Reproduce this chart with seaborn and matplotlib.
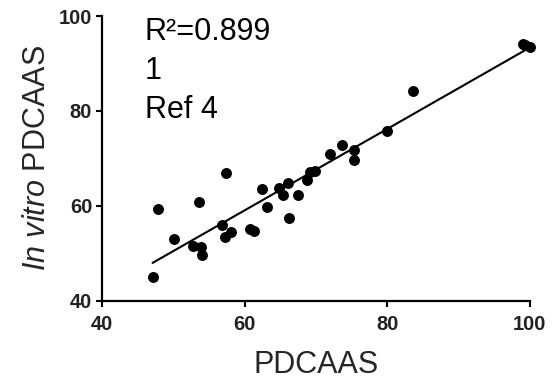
import numpy as np
import pandas as pd
import matplotlib
matplotlib.use('Agg')
import matplotlib.pyplot as plt
import seaborn as sns

# PDCAAS (x) vs in vitro PDCAAS (y)
pdcaas = [47.1, 47.8, 50.1, 52.8, 53.9, 54.1, 53.6, 56.9, 57.3, 58.1, 57.4,
          60.8, 61.3, 62.4, 63.1, 64.9, 65.4, 66.1, 66.2, 67.5, 68.8, 69.2,
          69.9, 72.0, 73.7, 75.3, 75.3, 80.0, 83.7, 99.0, 99.4, 100.0]
in_vitro = [44.9, 59.3, 53.1, 51.5, 51.3, 49.7, 60.8, 55.9, 53.4, 54.5, 67.0,
            55.2, 54.7, 63.6, 59.8, 63.8, 62.2, 64.9, 57.4, 62.2, 65.4, 67.2,
            67.4, 71.0, 72.9, 71.8, 69.6, 75.8, 84.2, 94.1, 93.8, 93.4]
notes = ['R\u00b2=0.899', '1', 'Ref 4']
x_ticks = [40, 60, 80, 100]
y_ticks = [40, 60, 80, 100]

df = pd.DataFrame({'PDCAAS': pdcaas, 'InVitro': in_vitro})

sns.set_style('ticks')
plt.rcParams['font.family'] = ['Liberation Sans', 'DejaVu Sans']
plt.rcParams['mathtext.fontset'] = 'custom'
plt.rcParams['mathtext.rm'] = 'Liberation Sans'
plt.rcParams['mathtext.it'] = 'Liberation Sans:italic'

fig = plt.figure(figsize=(5.57, 3.83), dpi=100)
ax = fig.add_axes([0.183, 0.215, 0.768, 0.743])

sns.regplot(data=df, x='PDCAAS', y='InVitro', ci=None, ax=ax, truncate=True,
            scatter_kws={'s': 62, 'color': 'black', 'alpha': 1, 'linewidths': 0,
                         'clip_on': False, 'zorder': 3},
            line_kws={'color': 'black', 'linewidth': 1.5})

ax.set_xlim(40, 100)
ax.set_ylim(40, 100)
ax.set_xticks(x_ticks)
ax.set_yticks(y_ticks)
ax.tick_params(axis='both', direction='out', length=4, width=1.5, colors='black',
               labelsize=14.5)
ax.tick_params(axis='x', pad=6)
ax.tick_params(axis='y', pad=3)
for lbl in ax.get_xticklabels() + ax.get_yticklabels():
    lbl.set_fontweight('bold')
    lbl.set_color('#222222')
for side in ['top', 'right']:
    ax.spines[side].set_visible(False)
for side in ['left', 'bottom']:
    ax.spines[side].set_linewidth(1.6)
    ax.spines[side].set_color('black')

ax.set_xlabel('PDCAAS', fontsize=22, labelpad=12)
ax.set_ylabel(r'$\mathit{In\ vitro}$ PDCAAS', fontsize=22, labelpad=5)

for i, t in enumerate(notes):
    ax.text(0.1, 0.915 - i * 0.137, t, transform=ax.transAxes, fontsize=22,
            ha='left', va='baseline', color='black')

fig.savefig('out.png', dpi=100)
